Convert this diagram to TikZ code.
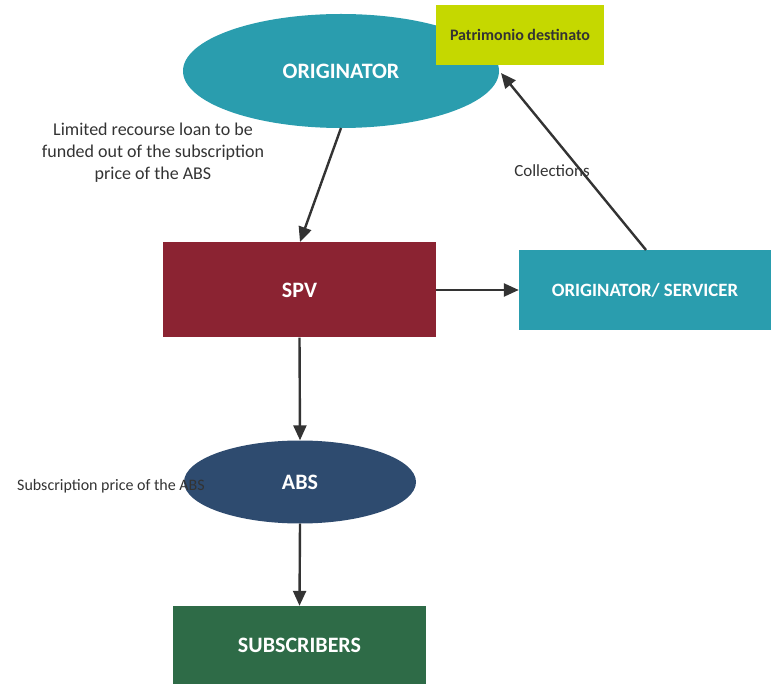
\documentclass[tikz,border=0pt]{standalone}
\usepackage{fontspec}
\setmainfont{Carlito}
\usetikzlibrary{arrows.meta,shapes.geometric}
\definecolor{tealc}{HTML}{2A9DAE}
\definecolor{limec}{HTML}{C5D800}
\definecolor{spvred}{HTML}{8B2332}
\definecolor{absblue}{HTML}{2E4B6F}
\definecolor{subgreen}{HTML}{2E6B47}
\definecolor{inkc}{HTML}{333333}
\tikzset{
  box/.style={draw=none,rectangle,inner sep=0pt,text=white,font=\bfseries\fontsize{22}{26}\selectfont},
  oval/.style={draw=none,ellipse,inner sep=0pt,text=white,font=\bfseries\fontsize{22}{26}\selectfont},
  flow/.style={draw=inkc,line width=2.4pt,-{Triangle[length=15pt,width=13pt]}},
  note/.style={text=inkc,align=center}
}
\begin{document}
\begin{tikzpicture}[x=1pt,y=-1pt]
\useasboundingbox (0,0) rectangle (771,684);
% main shapes
\node[oval,fill=tealc,minimum width=316pt,minimum height=114pt] (orig) at (341,71) {ORIGINATOR};
\node[box,fill=limec,text=inkc,minimum width=168pt,minimum height=60pt,font=\bfseries\fontsize{16}{19}\selectfont] (patr) at (520,35) {Patrimonio destinato};
\node[box,fill=spvred,minimum width=273pt,minimum height=95pt,text depth=0pt] (spv) at (299.5,290) {SPV};
\node[box,fill=tealc,minimum width=252pt,minimum height=80pt,font=\bfseries\fontsize{18.8}{22}\selectfont] (serv) at (645,290) {ORIGINATOR/ SERVICER};
\node[oval,fill=absblue,minimum width=232pt,minimum height=83pt] (abs) at (300,482) {ABS};
\node[box,fill=subgreen,minimum width=253pt,minimum height=78pt] (subs) at (299.5,645) {SUBSCRIBERS};
% endpoints of the connectors
\coordinate (origout) at (341,128);
\coordinate (spvin) at (300,242);
\coordinate (servout) at (646,250);
\coordinate (patrin) at (501,73);
% connectors
\draw[flow] (origout) -- (spvin);
\draw[flow] (spv.east) -- (serv.west);
\draw[flow] (servout) -- (patrin);
\draw[flow] (spv.south) -- (abs.north);
\draw[flow] (abs.south) -- (subs.north);
% labels
\node[note,font=\fontsize{18}{22}\selectfont] (loan) at (153,153) {Limited recourse loan to be\\funded out of the subscription\\price of the ABS};
\node[note,font=\fontsize{17}{20}\selectfont] (coll) at (552,171) {Collections};
\node[note,font=\fontsize{16}{19}\selectfont] (subp) at (111,486) {Subscription price of the ABS};
\end{tikzpicture}
\end{document}
